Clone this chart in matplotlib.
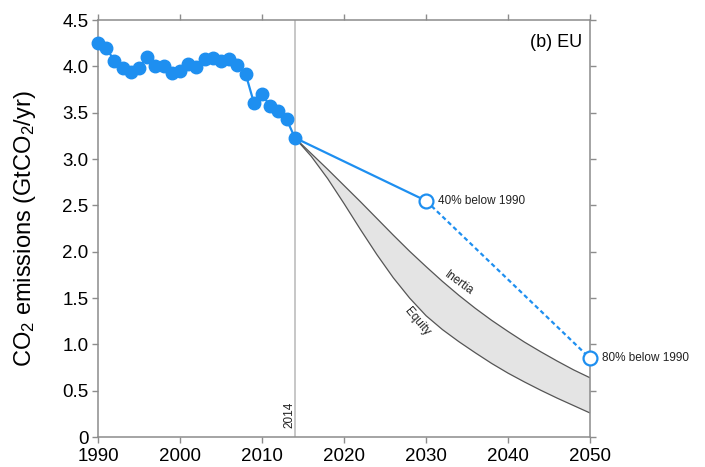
import matplotlib
matplotlib.use("Agg")
import matplotlib.pyplot as plt
from matplotlib import ticker

plt.rcParams["font.family"] = ["Liberation Sans", "DejaVu Sans"]
plt.rcParams["mathtext.fontset"] = "custom"
plt.rcParams["mathtext.rm"] = "Liberation Sans"
plt.rcParams["mathtext.default"] = "regular"

# Historical EU CO2 emissions (GtCO2/yr)
years = list(range(1990, 2015))
emissions = [4.25, 4.20, 4.06, 3.98, 3.94, 3.98, 4.10, 4.00, 4.00, 3.93,
             3.95, 4.03, 3.99, 4.08, 4.09, 4.06, 4.08, 4.02, 3.92, 3.61,
             3.70, 3.57, 3.52, 3.43, 3.23]

# Targets relative to 1990
target_years = [2030, 2050]
target_values = [2.55, 0.85]
target_labels = ["40% below 1990", "80% below 1990"]

# Pathway band (Inertia upper, Equity lower)
path_years = [2014, 2016, 2018, 2020, 2022, 2024, 2026, 2028, 2030, 2032,
              2034, 2036, 2038, 2040, 2042, 2044, 2046, 2048, 2050]
inertia = [3.23, 3.06, 2.89, 2.715, 2.54, 2.36, 2.18, 2.005, 1.84, 1.68,
           1.53, 1.39, 1.26, 1.14, 1.025, 0.92, 0.82, 0.725, 0.64]
equity = [3.23, 3.03, 2.79, 2.52, 2.24, 1.97, 1.72, 1.50, 1.31, 1.16,
          1.03, 0.91, 0.795, 0.69, 0.595, 0.505, 0.42, 0.34, 0.26]

blue = "#1e8ff0"
spine_gray = "#8c8c8c"

fig = plt.figure(figsize=(7.05, 4.67), dpi=100)
ax = fig.add_axes([0.139, 0.064, 0.698, 0.893])

# band
ax.fill_between(path_years, equity, inertia, color="#e4e4e4", zorder=1,
                linewidth=0)
ax.plot(path_years, inertia, color="#555555", linewidth=0.9, zorder=2)
ax.plot(path_years, equity, color="#555555", linewidth=0.9, zorder=2)

# 2014 line
ax.axvline(2014, color="#bdbdbd", linewidth=1.2, zorder=1)
ax.text(2013.3, 0.1, "2014", rotation=90, ha="center", va="bottom",
        fontsize=8.5, color="#222222")

# targets
ax.plot([years[-1], target_years[0]], [emissions[-1], target_values[0]],
        color=blue, linewidth=1.6, zorder=3)
ax.plot(target_years, target_values, color=blue, linewidth=1.6,
        linestyle=(0, (2.0, 1.4)), zorder=3)
ax.plot(target_years, target_values, "o", markersize=10,
        markerfacecolor="white", markeredgecolor=blue, markeredgewidth=1.6,
        zorder=5, clip_on=False)
for x, y, lab in zip(target_years, target_values, target_labels):
    ax.text(x + 1.5, y, lab, ha="left", va="center", fontsize=8.5,
            color="#222222", clip_on=False)

# history
ax.plot(years, emissions, "o-", color=blue, markersize=9, linewidth=1.6,
        zorder=4, clip_on=False)

# band labels
ax.text(2034.0, 1.66, "Inertia", rotation=-36, ha="center", va="center",
        fontsize=8.5, color="#222222")
ax.text(2028.9, 1.25, "Equity", rotation=-50, ha="center", va="center",
        fontsize=8.5, color="#222222")

ax.text(2049.0, 4.26, "(b) EU", ha="right", va="center", fontsize=13)

ax.set_xlim(1990, 2050)
ax.set_ylim(0, 4.5)
ax.xaxis.set_major_locator(ticker.MultipleLocator(10))
ax.yaxis.set_major_locator(ticker.MultipleLocator(0.5))
ax.yaxis.set_major_formatter(
    ticker.FuncFormatter(lambda v, p: "0" if v == 0 else "%.1f" % v))
ax.tick_params(direction="out", length=4, width=1, color=spine_gray,
               top=True, right=True, labelsize=13.5)
ax.tick_params(axis="x", pad=4)
ax.tick_params(axis="y", pad=3)
for s in ax.spines.values():
    s.set_color(spine_gray)
    s.set_linewidth(1.1)

ax.set_ylabel("CO$_2$ emissions (GtCO$_2$/yr)", fontsize=17, labelpad=17)

fig.savefig("out.png", dpi=100)
